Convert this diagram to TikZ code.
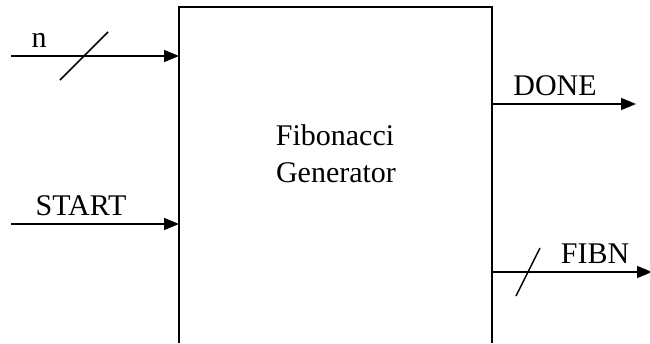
\documentclass[tikz,border=0pt]{standalone}
\usepackage{fontspec}
\setmainfont{Liberation Serif}
\usetikzlibrary{arrows.meta}
\begin{document}
\begin{tikzpicture}[x=1pt,y=-1pt,
  lbl/.style={font=\fontsize{30}{36}\selectfont, inner sep=0pt, anchor=base},
  sig/.style={line width=1.5pt, -{Triangle[length=15pt,width=12pt]}},
  slash/.style={line width=1.5pt},
  boxline/.style={line width=2pt}]
\useasboundingbox (0,0) rectangle (650,343);
% block body (open at the bottom)
\node[inner sep=0pt, minimum width=313pt, minimum height=336pt, anchor=north west] (gen) at (179,7) {};
\draw[boxline] (gen.south west) -- (gen.north west) -- (gen.north east) -- (gen.south east);
\node[lbl] (title1) at (335,145) {Fibonacci};
\node[lbl] (title2) at (336,182) {Generator};
% inputs
\coordinate (nin) at (11,56);
\coordinate (sin) at (11,224);
\draw[sig] (nin) -- (nin -| gen.west);
\draw[sig] (sin) -- (sin -| gen.west);
\coordinate (ns1) at (60,80);
\coordinate (ns2) at (108,32);
\draw[slash] (ns1) -- (ns2);
\node[lbl] (nlab) at (39,47) {n};
\node[lbl] (slab) at (81,215) {START};
% outputs
\coordinate (dout) at (636,104);
\coordinate (fout) at (652,272);
\draw[sig] (dout -| gen.east) -- (dout);
\draw[sig] (fout -| gen.east) -- (fout);
\coordinate (fs1) at (516,296);
\coordinate (fs2) at (540,248);
\draw[slash] (fs1) -- (fs2);
\node[lbl] (dlab) at (555,95) {DONE};
\node[lbl] (flab) at (595,263) {FIBN};
\end{tikzpicture}
\end{document}
